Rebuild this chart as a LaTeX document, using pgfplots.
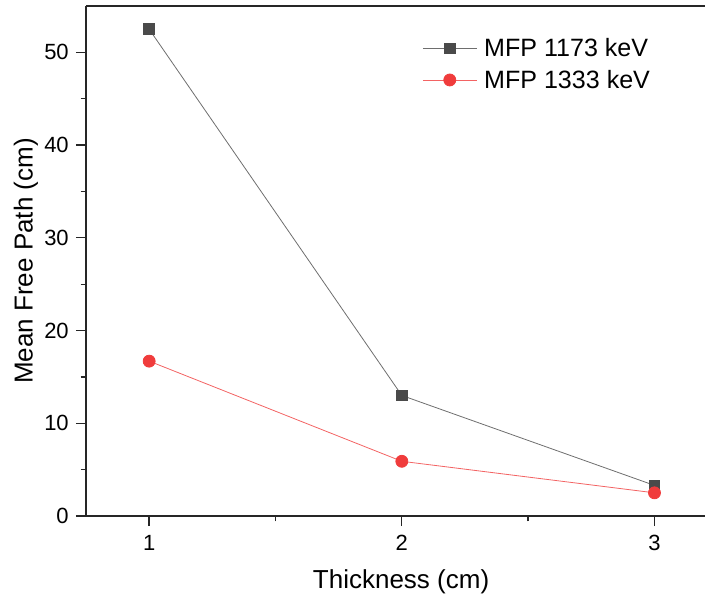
\documentclass[border=0pt]{standalone}
\usepackage{pgfplots}
\pgfplotsset{compat=1.18}
\usepackage{fontspec}
\setmainfont{Liberation Sans}
\definecolor{mgray}{RGB}{74,74,74}
\definecolor{lgray}{RGB}{110,110,110}
\definecolor{mred}{RGB}{240,60,60}
\begin{document}
\begin{tikzpicture}
\begin{axis}[
  name=ax,
  scale only axis,
  width=464.25pt, height=382.5pt,
  xmin=0.75, xmax=3.2, ymin=0, ymax=55,
  axis lines=left,
  axis line style={-, line width=1pt, black!85},
  xtick={1,2,3}, ytick={0,10,20,30,40,50},
  minor xtick={1.5,2.5}, minor ytick={5,15,25,35,45},
  tick align=outside,
  major tick length=7.5pt, minor tick length=4pt,
  every tick/.style={line width=1pt, black!85},
  tick label style={font=\fontsize{16.5}{19}\selectfont},
  /pgf/number format/assume math mode=true,
  yticklabel style={inner sep=0pt, anchor=east, xshift=-5.25pt},
  xticklabel style={inner sep=0pt, anchor=north, yshift=-6.75pt},
  xlabel={Thickness (cm)}, ylabel={Mean Free Path (cm)},
  label style={font=\fontsize{19.5}{23}\selectfont},
  xlabel style={at={(axis description cs:0.509,-0.1431)}, anchor=base},
  ylabel style={at={(axis description cs:-0.097,0.5)}, anchor=center, rotate=0},
  legend style={draw=none, fill=none, inner sep=0pt, at={(axis description cs:0.543,0.937)}, anchor=north west,
    font=\fontsize{18.8}{22}\selectfont, row sep=8.5pt, column sep=5.25pt,
    nodes={inner sep=0pt}},
  legend cell align=left,
  legend image code/.code={
    \draw[#1, mark repeat=2, mark phase=2] plot coordinates {(0pt,0pt) (20.25pt,0pt) (40.5pt,0pt)};
  },
  clip=false,
]
\draw[line width=1pt, black!85] (rel axis cs:0,1) -- (rel axis cs:1,1);
\addplot[color=lgray, line width=0.6pt, mark=square*, mark size=4pt,
  mark options={fill=mgray, draw=mgray, solid}]
  coordinates {(1,52.5) (2,13.0) (3,3.3)};
\addlegendentry{MFP 1173 keV}
\addplot[color=mred!80, line width=0.6pt, mark=*, mark size=4.5pt,
  mark options={fill=mred, draw=mred, solid}]
  coordinates {(1,16.7) (2,5.9) (3,2.5)};
\addlegendentry{MFP 1333 keV}
\end{axis}
\pgfresetboundingbox
\path[use as bounding box] ([xshift=-64.5pt,yshift=-62.25pt]ax.south west) rectangle ([yshift=4.5pt]ax.north east);
\end{tikzpicture}
\end{document}
